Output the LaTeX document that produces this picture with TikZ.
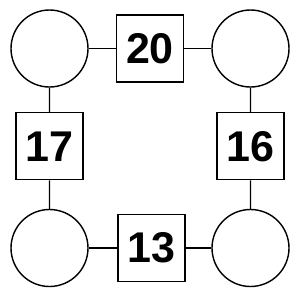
\documentclass[tikz,border=0pt]{standalone}
\usepackage{fontspec}
\setmainfont{Liberation Sans}
\usepackage{tikz}
\usetikzlibrary{calc}
\tikzset{
  ring/.style={draw=black,circle,line width=1.4pt,minimum size=77pt,inner sep=0pt},
  cell/.style={draw=black,line width=1.4pt,minimum size=67pt,inner sep=0pt,
    font=\fontsize{43}{43}\selectfont\bfseries},
  link/.style={line width=1.4pt,black},
}

\begin{document}
\begin{tikzpicture}[x=1pt,y=-1pt]
\useasboundingbox (0,0) rectangle (300,300);
\node[ring] (tl) at (49.5,48.5) {};
\node[ring] (tr) at (250.5,48.5) {};
\node[ring] (bl) at (49.5,248) {};
\node[ring] (br) at (250.5,248) {};
\node[cell] (top) at ($(tl)!0.5!(tr)$) {20};
\node[cell] (lft) at ($(tl)!0.49!(bl)$) {17};
\node[cell] (rgt) at ($(tr)!0.49!(br)$) {16};
\node[cell] (bot) at ($(bl)!0.507!(br)$) {13};
\draw[link] (tl)--(top); \draw[link] (top)--(tr);
\draw[link] (tl)--(lft); \draw[link] (lft)--(bl);
\draw[link] (tr)--(rgt); \draw[link] (rgt)--(br);
\draw[link] (bl)--(bot); \draw[link] (bot)--(br);
\end{tikzpicture}
\end{document}
